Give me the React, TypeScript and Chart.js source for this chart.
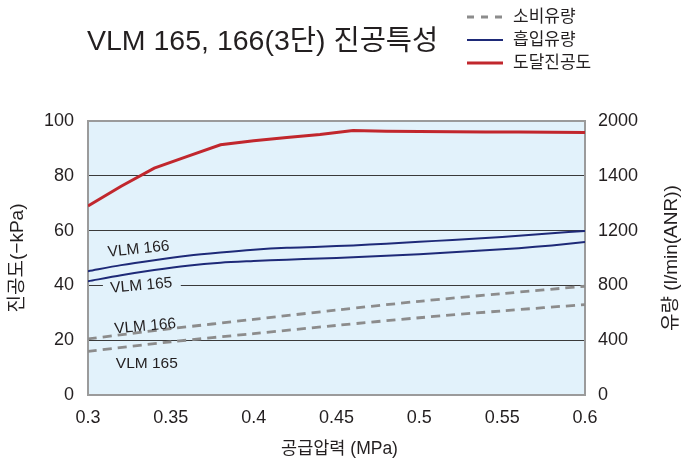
import React, { useEffect, useRef } from "react";
import { Chart, registerables } from "chart.js";

Chart.register(...registerables);

// ---- data ----
const pressures = [0.30, 0.32, 0.34, 0.36, 0.38, 0.40, 0.42, 0.44, 0.46, 0.48, 0.50, 0.52, 0.54, 0.56, 0.58, 0.60];
// 도달진공도 (-kPa)
const vacuumLevel = [69.0, 76.2, 82.8, 87.1, 91.3, 92.8, 94.0, 95.1, 96.5, 96.3, 96.2, 96.1, 96.0, 96.0, 95.9, 95.8];
// 흡입유량 (l/min(ANR))
const suction166 = [904, 948, 984, 1016, 1040, 1060, 1074, 1082, 1092, 1104, 1118, 1132, 1146, 1162, 1180, 1198];
const suction165 = [830, 874, 912, 944, 966, 978, 988, 996, 1006, 1016, 1028, 1042, 1056, 1072, 1092, 1116];
// 소비유량 (l/min(ANR))
const consumptionPressures = [0.30, 0.35, 0.40, 0.45, 0.50, 0.55, 0.60];
const consumption166 = [410, 484, 552, 620, 684, 740, 794];
const consumption165 = [318, 388, 448, 508, 564, 614, 660];

const xTickLabels = ["0.3", "0.35", "0.4", "0.45", "0.5", "0.55", "0.6"];
const leftTickLabels = ["0", "20", "40", "60", "80", "100"];
const rightTickLabels = ["0", "400", "800", "1200", "1400", "2000"];
const legendLabels = ["소비유량", "흡입유량", "도달진공도"];
const titleText = "VLM 165, 166(3단) 진공특성";
const xTitle = "공급압력 (MPa)";
const leftTitle = "진공도(−kPa)";
const rightTitle = "유량 (l/min(ANR))";

// curve annotations, anchored in data units (x: MPa, y: left-axis units)
const curveLabelText = ["VLM 166", "VLM 165", "VLM 166", "VLM 165"];
const curveLabelX = [0.3305, 0.3322, 0.3345, 0.3355];
const curveLabelY = [53.2, 39.9, 25.0, 11.3];
const curveLabelAngle = [-6, -5, -5, 0];

// ---- styles ----
const LATIN = "'Liberation Sans', 'Noto Sans CJK KR', sans-serif";
const INK = "#231f20";
const RED = "#c1272d";
const BLUE = "#1e2a78";
const GRAY = "#8c8c8c";
const PLOT_BG = "#e2f2fb";

const pts = (xs: number[], ys: number[]) => xs.map((x, i) => ({ x, y: ys[i] }));

const decorPlugin = {
  id: "decor",
  beforeDraw(chart: any) {
    const { ctx, chartArea: a } = chart;
    ctx.save();
    ctx.fillStyle = "#ffffff";
    ctx.fillRect(0, 0, chart.width, chart.height);
    ctx.fillStyle = PLOT_BG;
    ctx.fillRect(a.left, a.top, a.right - a.left, a.bottom - a.top);
    ctx.restore();
  },
  beforeDatasetsDraw(chart: any) {
    const { ctx, chartArea: a, scales } = chart;
    ctx.save();
    // gap in the 40 grid line behind the "VLM 165" label
    const gx0 = scales.x.getPixelForValue(0.309);
    const gx1 = scales.x.getPixelForValue(0.356);
    const gy = scales.y.getPixelForValue(40);
    ctx.fillStyle = PLOT_BG;
    ctx.fillRect(gx0, gy - 2, gx1 - gx0, 4);
    // frame
    ctx.strokeStyle = "#9b9b9b";
    ctx.lineWidth = 2;
    ctx.strokeRect(a.left, a.top, a.right - a.left, a.bottom - a.top);
    ctx.restore();
  },
  afterDraw(chart: any) {
    const { ctx, chartArea: a, scales } = chart;
    ctx.save();
    ctx.fillStyle = INK;
    ctx.textBaseline = "middle";

    // title
    ctx.font = `28.5px ${LATIN}`;
    ctx.textAlign = "left";
    ctx.fillText(titleText, 87, 42);

    // legend
    const legendColors = [GRAY, BLUE, RED];
    const legendDash = [[7, 7], [], []];
    const legendWidth = [3, 2, 3];
    ctx.font = `17px ${LATIN}`;
    legendLabels.forEach((t, i) => {
      const y = 17 + i * 23;
      ctx.save();
      ctx.strokeStyle = legendColors[i];
      ctx.lineWidth = legendWidth[i];
      ctx.setLineDash(legendDash[i]);
      ctx.beginPath();
      ctx.moveTo(467, y);
      ctx.lineTo(503, y);
      ctx.stroke();
      ctx.restore();
      ctx.fillStyle = INK;
      ctx.fillText(t, 513, y);
    });

    // axis titles
    ctx.font = `17.5px ${LATIN}`;
    ctx.textAlign = "center";
    ctx.fillText(xTitle, (a.left + a.right) / 2 + 3, 449);

    ctx.font = `19px ${LATIN}`;
    ctx.save();
    ctx.translate(18, (a.top + a.bottom) / 2);
    ctx.rotate(-Math.PI / 2);
    ctx.fillText(leftTitle, 0, 0);
    ctx.restore();

    ctx.save();
    ctx.translate(672, (a.top + a.bottom) / 2);
    ctx.rotate(-Math.PI / 2);
    ctx.fillText(rightTitle, 0, 0);
    ctx.restore();

    // curve labels
    ctx.font = `15.5px ${LATIN}`;
    curveLabelText.forEach((t, i) => {
      const px = scales.x.getPixelForValue(curveLabelX[i]);
      const py = scales.y.getPixelForValue(curveLabelY[i]);
      ctx.save();
      ctx.translate(px, py);
      ctx.rotate((curveLabelAngle[i] * Math.PI) / 180);
      ctx.fillText(t, 0, 0);
      ctx.restore();
    });
    ctx.restore();
  },
};

export default function App() {
  const ref = useRef<HTMLCanvasElement>(null);

  useEffect(() => {
    if (!ref.current) return;
    const chart = new Chart(ref.current, {
      type: "line",
      data: {
        datasets: [
          {
            label: "도달진공도",
            data: pts(pressures, vacuumLevel),
            yAxisID: "y",
            borderColor: RED,
            borderWidth: 3,
            pointRadius: 0,
            tension: 0,
          },
          {
            label: "흡입유량 VLM 166",
            data: pts(pressures, suction166),
            yAxisID: "y1",
            borderColor: BLUE,
            borderWidth: 2,
            pointRadius: 0,
            tension: 0.3,
          },
          {
            label: "흡입유량 VLM 165",
            data: pts(pressures, suction165),
            yAxisID: "y1",
            borderColor: BLUE,
            borderWidth: 2,
            pointRadius: 0,
            tension: 0.3,
          },
          {
            label: "소비유량 VLM 166",
            data: pts(consumptionPressures, consumption166),
            yAxisID: "y1",
            borderColor: GRAY,
            borderWidth: 2.8,
            borderDash: [9, 6],
            pointRadius: 0,
            tension: 0.3,
          },
          {
            label: "소비유량 VLM 165",
            data: pts(consumptionPressures, consumption165),
            yAxisID: "y1",
            borderColor: GRAY,
            borderWidth: 2.8,
            borderDash: [9, 6],
            pointRadius: 0,
            tension: 0.3,
          },
        ],
      },
      options: {
        responsive: false,
        animation: false,
        events: [],
        layout: { padding: { top: 121, left: 0, right: 0, bottom: 0 } },
        plugins: {
          legend: { display: false },
          title: { display: false },
          tooltip: { enabled: false },
        },
        scales: {
          x: {
            type: "linear",
            min: 0.3,
            max: 0.6,
            grid: { display: false, drawTicks: false },
            border: { display: false },
            ticks: {
              stepSize: 0.05,
              padding: 12,
              maxRotation: 0,
              color: INK,
              font: { family: LATIN, size: 18 },
              callback: (v: any) => xTickLabels[Math.round((Number(v) - 0.3) / 0.05)] ?? "",
            },
            afterFit: (s: any) => {
              s.height = 64;
            },
          },
          y: {
            type: "linear",
            position: "left",
            min: 0,
            max: 100,
            grid: {
              drawTicks: false,
              lineWidth: 1,
              color: (c: any) =>
                c.tick && (c.tick.value === 0 || c.tick.value === 100) ? "rgba(0,0,0,0)" : "#3a3a3a",
            },
            border: { display: false },
            ticks: {
              stepSize: 20,
              padding: 14,
              color: INK,
              font: { family: LATIN, size: 18 },
              callback: (v: any) => leftTickLabels[Math.round(Number(v) / 20)] ?? "",
            },
            afterFit: (s: any) => {
              s.width = 88;
            },
          },
          y1: {
            type: "linear",
            position: "right",
            min: 0,
            max: 2000,
            grid: { display: false, drawTicks: false },
            border: { display: false },
            ticks: {
              stepSize: 400,
              padding: 13,
              color: INK,
              font: { family: LATIN, size: 18 },
              callback: (v: any) => rightTickLabels[Math.round(Number(v) / 400)] ?? "",
            },
            afterFit: (s: any) => {
              s.width = 97;
            },
          },
        },
      },
      plugins: [decorPlugin],
    } as any);
    return () => chart.destroy();
  }, []);

  return (
    <div style={{ position: "fixed", left: 0, top: 0, width: 682, height: 459, background: "#fff" }}>
      <canvas ref={ref} width={682} height={459} style={{ display: "block", width: 682, height: 459 }} />
    </div>
  );
}
